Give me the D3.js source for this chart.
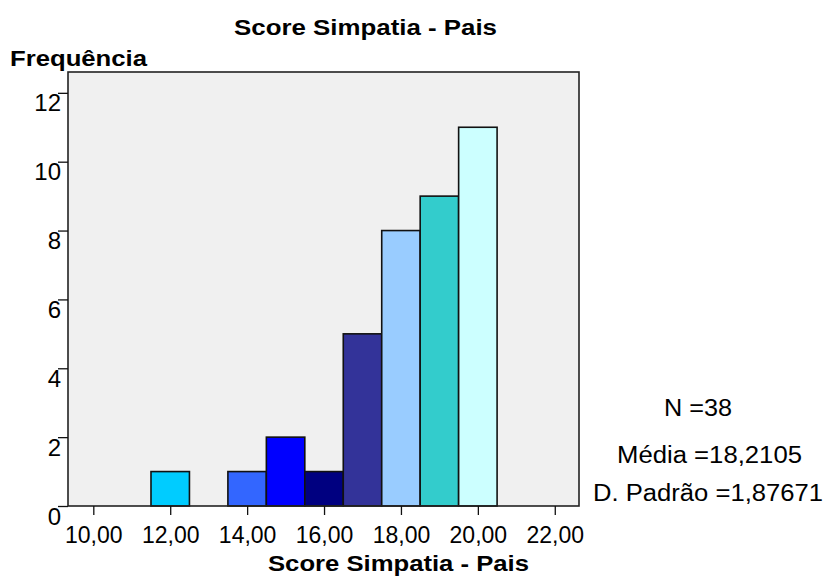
<!DOCTYPE html>
<html><head><meta charset="utf-8">
<script src="https://cdn.jsdelivr.net/npm/d3@7"></script>
<style>
html,body{margin:0;padding:0;background:#fff;}
text{font-family:"Liberation Sans",Arial,sans-serif;fill:#000;}
</style></head>
<body><svg id="c" width="826" height="584"></svg>
<script>
// ---- data ----
const binCenters = [12, 14, 15, 16, 17, 18, 19, 20];
const frequencies = [1, 1, 2, 1, 5, 8, 9, 11];
const xTicks = [10, 12, 14, 16, 18, 20, 22];
const yTicks = [0, 2, 4, 6, 8, 10, 12];
const statLines = ["N =38", "Média =18,2105", "D. Padrão =1,87671"];
const chartTitle = "Score Simpatia - Pais";
const xTitle = "Score Simpatia - Pais";
const yTitle = "Frequência";

// ---- styles ----
const barColors = ["#00CCFF", "#3366FF", "#0000FF", "#000080", "#333399", "#99CCFF", "#33CCCC", "#CCFFFF"];

const svg = d3.select("#c");
const L = 68, R = 579, T = 72, B = 506;
const x = d3.scaleLinear().domain([9.342, 22.63]).range([L, R]);
const y = d3.scaleLinear().domain([0, 12.605]).range([B, T]);

const loc = d3.formatLocale({decimal: ",", thousands: ".", grouping: [3], currency: ["", ""]});
const fx = loc.format(".2f");

// plot background
svg.append("rect").attr("x", L).attr("y", T).attr("width", R - L).attr("height", B - T)
  .attr("fill", "#F0F0F0");

// bars
svg.append("g").selectAll("rect").data(binCenters).join("rect")
  .attr("x", d => x(d - 0.5))
  .attr("width", d => x(d + 0.5) - x(d - 0.5))
  .attr("y", (d, i) => y(frequencies[i]))
  .attr("height", (d, i) => y(0) - y(frequencies[i]))
  .attr("fill", (d, i) => barColors[i])
  .attr("stroke", "#111").attr("stroke-width", 1.6);

// frame
svg.append("rect").attr("x", L).attr("y", T).attr("width", R - L).attr("height", B - T)
  .attr("fill", "none").attr("stroke", "#222").attr("stroke-width", 1.6);

// y axis
const gy = svg.append("g").attr("transform", `translate(${L},0)`)
  .call(d3.axisLeft(y).tickValues(yTicks).tickSize(10).tickFormat(d3.format("d")));
gy.select(".domain").remove();
gy.selectAll(".tick line").attr("stroke", "#111").attr("stroke-width", 1.3);
gy.selectAll(".tick text").attr("x", -7).attr("dy", null).attr("y", 18)
  .style("font-size", "24px").style("font-family", '"Liberation Sans",Arial,sans-serif').attr("fill", "#000");

// x axis
const gx = svg.append("g").attr("transform", `translate(0,${B})`)
  .call(d3.axisBottom(x).tickValues(xTicks).tickSize(9).tickFormat(fx));
gx.select(".domain").remove();
gx.selectAll(".tick line").attr("stroke", "#111").attr("stroke-width", 1.3);
gx.selectAll(".tick text").attr("dy", null).attr("y", 37)
  .style("font-size", "23px").style("font-family", '"Liberation Sans",Arial,sans-serif').attr("fill", "#000");

// titles
function txt(s, x0, w, base, size, bold) {
  svg.append("text").attr("x", x0).attr("y", base).text(s)
    .attr("textLength", w).attr("lengthAdjust", "spacingAndGlyphs")
    .style("font-size", size + "px").style("font-weight", bold ? "bold" : "normal");
}
txt(chartTitle, 234, 263, 35, 22.5, true);
txt(yTitle, 10, 137, 66, 22.5, true);
txt(xTitle, 268, 261, 571, 22.5, true);

// stats
const statX = [664, 617, 593];
const statW = [68, 185, 230];
const statBase = [416, 463, 501];
statLines.forEach((s, i) => txt(s, statX[i], statW[i], statBase[i], 23.5, false));
</script></body></html>
